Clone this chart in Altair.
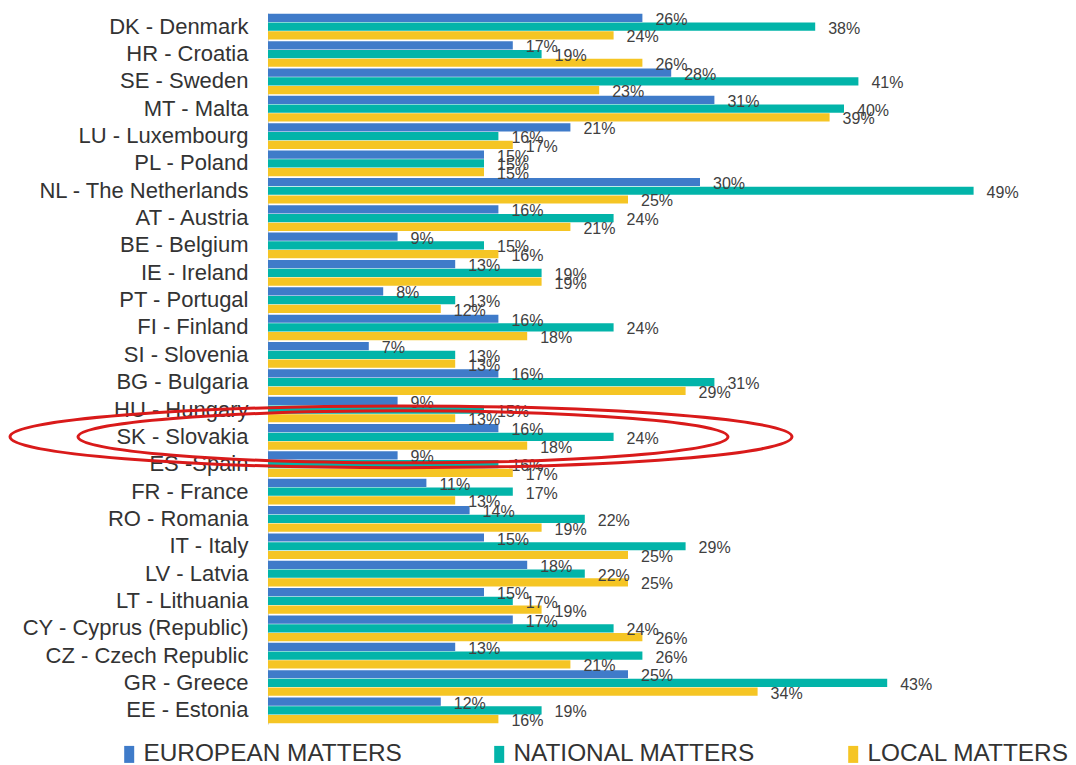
import altair as alt
import pandas as pd

countries = [
    "DK - Denmark", "HR - Croatia", "SE - Sweden", "MT - Malta", "LU - Luxembourg",
    "PL - Poland", "NL - The Netherlands", "AT - Austria", "BE - Belgium", "IE - Ireland",
    "PT - Portugal", "FI - Finland", "SI - Slovenia", "BG - Bulgaria", "HU - Hungary",
    "SK - Slovakia", "ES -Spain", "FR - France", "RO - Romania", "IT - Italy",
    "LV - Latvia", "LT - Lithuania", "CY - Cyprus (Republic)", "CZ - Czech Republic",
    "GR - Greece", "EE - Estonia",
]
european = [26, 17, 28, 31, 21, 15, 30, 16, 9, 13, 8, 16, 7, 16, 9, 16, 9, 11, 14, 15, 18, 15, 17, 13, 25, 12]
national = [38, 19, 41, 40, 16, 15, 49, 24, 15, 19, 13, 24, 13, 31, 15, 24, 16, 17, 22, 29, 22, 17, 24, 26, 43, 19]
local = [24, 26, 23, 39, 17, 15, 25, 21, 16, 19, 12, 18, 13, 29, 13, 18, 17, 13, 19, 25, 25, 19, 26, 21, 34, 16]

series = ["EUROPEAN MATTERS", "NATIONAL MATTERS", "LOCAL MATTERS"]
colors = ["#3F7BC9", "#02B4A9", "#F5C524"]

rows = []
for i, c in enumerate(countries):
    for s, vals in zip(series, [european, national, local]):
        rows.append({"country": c, "series": s, "value": vals[i]})
df = pd.DataFrame(rows)
df["label"] = df["value"].astype(str) + "%"

FONT = "Liberation Sans"

y_enc = alt.Y(
    "country:N",
    sort=countries,
    scale=alt.Scale(paddingInner=0.06, paddingOuter=0.03),
    axis=alt.Axis(
        title=None, labelFontSize=22, labelColor="#333333", labelFont=FONT,
        ticks=False, labelPadding=20, domainColor="#d0d0d0", domainWidth=1,
        labelLimit=400, grid=False,
    ),
)
x_enc = alt.X("value:Q", scale=alt.Scale(domain=[0, 50]), axis=None)
yoff = alt.YOffset("series:N", sort=series, scale=alt.Scale(paddingInner=0.06))

base = alt.Chart(df)

bars = base.mark_bar().encode(
    y=y_enc,
    x=x_enc,
    yOffset=yoff,
    color=alt.Color(
        "series:N",
        sort=series,
        scale=alt.Scale(domain=series, range=colors),
        legend=alt.Legend(
            title=None, orient="none", legendX=-151, legendY=729,
            direction="horizontal", symbolType="M-1,-1.7H1V1.7H-1Z",
            symbolSize=100, symbolStrokeWidth=0, symbolOpacity=1,
            labelFontSize=24.4, labelFont=FONT, labelColor="#333333",
            labelOffset=2, columnPadding=85, padding=0, labelLimit=600,
        ),
    ),
)

texts = base.mark_text(
    align="left", baseline="middle", dx=13, dy=2, fontSize=16,
    color="#404040", font=FONT,
).encode(y=y_enc, x=x_enc, yOffset=yoff, text="label:N")


def ellipse_path(b):
    k = 0.5523
    return (
        f"M-1,0C-1,{-k*b:.4f} {-k:.4f},{-b:.4f} 0,{-b:.4f}"
        f"C{k:.4f},{-b:.4f} 1,{-k*b:.4f} 1,0"
        f"C1,{k*b:.4f} {k:.4f},{b:.4f} 0,{b:.4f}"
        f"C{-k:.4f},{b:.4f} -1,{k*b:.4f} -1,0Z"
    )


highlight = pd.DataFrame({"country": ["SK - Slovakia"]})

outer = alt.Chart(highlight).mark_point(
    shape=ellipse_path(0.079), size=782 ** 2, filled=False,
    stroke="#D91A1A", strokeWidth=3, opacity=1,
).encode(y=alt.Y("country:N", sort=countries), x=alt.value(133))

inner = alt.Chart(highlight).mark_point(
    shape=ellipse_path(0.08), size=650 ** 2, filled=False,
    stroke="#D91A1A", strokeWidth=3, opacity=1,
).encode(y=alt.Y("country:N", sort=countries), x=alt.value(135))

chart = (
    alt.layer(bars, texts, outer, inner)
    .properties(
        width=720, height=711,
        autosize=alt.AutoSizeParams(type="none"),
        padding={"left": 260, "top": 5, "right": 80, "bottom": 60},
    )
    .configure_view(stroke=None)
)

chart.save("out.html", embed_options={"renderer": "svg", "actions": False})
